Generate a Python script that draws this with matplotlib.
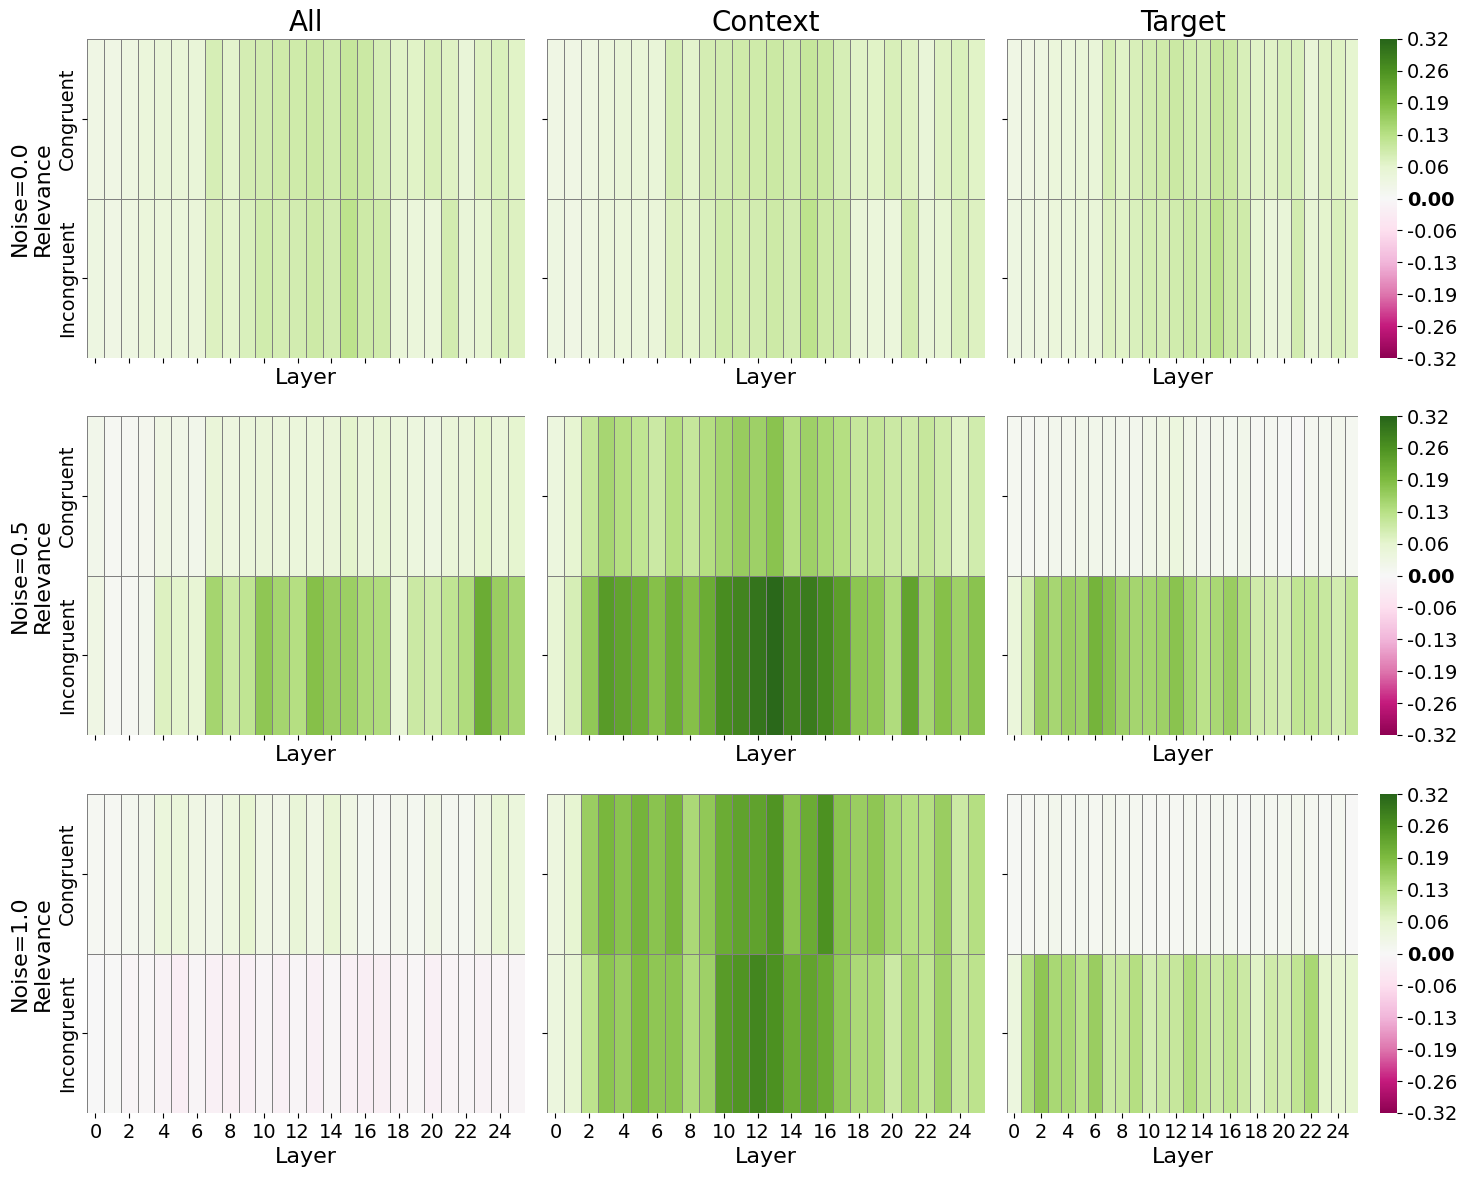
import matplotlib
matplotlib.use("Agg")
import matplotlib.pyplot as plt
import numpy as np
import seaborn as sns

layers = list(range(26))
relevance = ["Congruent", "Incongruent"]
noise_levels = ["0.0", "0.5", "1.0"]
columns = ["All", "Context", "Target"]
vlim = 0.32

# values, one list per heatmap row (layers 0..25)
all_00_cong = [0.03, 0.03, 0.035, 0.045, 0.05, 0.05, 0.05, 0.085, 0.065, 0.088, 0.09, 0.097, 0.097,
               0.10, 0.093, 0.108, 0.10, 0.085, 0.072, 0.07, 0.083, 0.073, 0.05, 0.073, 0.08, 0.07]
all_00_inc = [0.035, 0.03, 0.035, 0.045, 0.045, 0.045, 0.048, 0.075, 0.065, 0.08, 0.093, 0.088, 0.09,
              0.098, 0.092, 0.12, 0.098, 0.096, 0.05, 0.045, 0.045, 0.09, 0.05, 0.058, 0.08, 0.075]
ctx_00_cong = [0.03, 0.03, 0.035, 0.045, 0.05, 0.05, 0.05, 0.085, 0.065, 0.088, 0.09, 0.097, 0.097,
               0.10, 0.093, 0.108, 0.10, 0.085, 0.072, 0.07, 0.083, 0.073, 0.05, 0.073, 0.08, 0.07]
ctx_00_inc = [0.035, 0.03, 0.035, 0.045, 0.045, 0.045, 0.048, 0.075, 0.065, 0.08, 0.093, 0.088, 0.09,
              0.098, 0.092, 0.12, 0.098, 0.096, 0.05, 0.045, 0.045, 0.09, 0.05, 0.058, 0.08, 0.075]
tgt_00_cong = [0.03, 0.03, 0.035, 0.045, 0.045, 0.05, 0.05, 0.086, 0.072, 0.083, 0.09, 0.097, 0.102,
               0.093, 0.088, 0.108, 0.10, 0.083, 0.072, 0.07, 0.082, 0.08, 0.052, 0.073, 0.073, 0.063]
tgt_00_inc = [0.035, 0.035, 0.035, 0.046, 0.046, 0.05, 0.05, 0.077, 0.07, 0.08, 0.089, 0.085, 0.093,
              0.102, 0.093, 0.122, 0.10, 0.097, 0.058, 0.046, 0.052, 0.092, 0.055, 0.065, 0.08, 0.072]

all_05_cong = [0.02, 0.008, 0.008, 0.015, 0.03, 0.025, 0.022, 0.048, 0.038, 0.045, 0.048, 0.045, 0.045,
               0.045, 0.048, 0.065, 0.048, 0.056, 0.045, 0.042, 0.035, 0.048, 0.048, 0.063, 0.048, 0.064]
all_05_inc = [0.032, 0.008, 0.008, 0.018, 0.077, 0.066, 0.057, 0.148, 0.102, 0.115, 0.174, 0.148, 0.132,
              0.183, 0.16, 0.158, 0.142, 0.137, 0.05, 0.102, 0.095, 0.115, 0.137, 0.215, 0.16, 0.146]
ctx_05_cong = [0.042, 0.062, 0.11, 0.146, 0.13, 0.115, 0.10, 0.132, 0.108, 0.132, 0.148, 0.163, 0.155,
               0.178, 0.132, 0.155, 0.145, 0.13, 0.108, 0.112, 0.102, 0.095, 0.108, 0.096, 0.07, 0.093]
ctx_05_inc = [0.055, 0.085, 0.172, 0.242, 0.228, 0.215, 0.183, 0.215, 0.183, 0.215, 0.263, 0.274, 0.295,
              0.314, 0.274, 0.285, 0.267, 0.236, 0.175, 0.17, 0.137, 0.228, 0.146, 0.183, 0.155, 0.178]
tgt_05_cong = [0.01, 0.008, 0.01, 0.018, 0.018, 0.02, 0.022, 0.022, 0.018, 0.018, 0.025, 0.032, 0.04,
               0.025, 0.018, 0.018, 0.014, 0.022, 0.008, 0.01, 0.006, 0.002, 0.01, 0.014, 0.018, 0.01]
tgt_05_inc = [0.046, 0.097, 0.16, 0.146, 0.16, 0.157, 0.203, 0.178, 0.157, 0.15, 0.148, 0.157, 0.178,
              0.148, 0.123, 0.145, 0.16, 0.137, 0.095, 0.095, 0.088, 0.115, 0.115, 0.107, 0.092, 0.11]

all_10_cong = [0.008, 0.008, 0.014, 0.02, 0.043, 0.046, 0.032, 0.025, 0.04, 0.06, 0.03, 0.025, 0.05,
               0.032, 0.056, 0.032, 0.014, 0.008, 0.018, 0.014, 0.025, 0.01, 0.014, 0.03, 0.057, 0.043]
all_10_inc = [-0.002, 0.0, -0.01, -0.006, -0.014, -0.025, -0.01, -0.02, -0.022, -0.018, -0.01, -0.02, -0.01,
              -0.018, -0.006, -0.02, -0.025, -0.022, -0.014, -0.006, -0.02, -0.01, -0.01, -0.014, -0.01, -0.01]
ctx_10_cong = [0.038, 0.06, 0.16, 0.198, 0.178, 0.203, 0.178, 0.20, 0.142, 0.17, 0.215, 0.23, 0.23,
               0.252, 0.178, 0.215, 0.256, 0.178, 0.16, 0.173, 0.145, 0.132, 0.132, 0.16, 0.102, 0.13]
ctx_10_inc = [0.04, 0.057, 0.122, 0.175, 0.16, 0.19, 0.173, 0.175, 0.137, 0.155, 0.242, 0.25, 0.27,
              0.257, 0.215, 0.228, 0.215, 0.17, 0.142, 0.142, 0.102, 0.142, 0.115, 0.155, 0.108, 0.122]
tgt_10_cong = [0.006, 0.008, 0.01, 0.018, 0.01, 0.014, 0.01, 0.018, 0.01, 0.01, 0.008, 0.008, 0.008,
               0.01, 0.008, 0.01, 0.01, 0.006, 0.01, 0.01, 0.014, 0.018, 0.01, 0.006, 0.01, 0.002]
tgt_10_inc = [0.042, 0.137, 0.173, 0.145, 0.145, 0.124, 0.16, 0.102, 0.108, 0.13, 0.088, 0.102, 0.108,
              0.137, 0.108, 0.102, 0.115, 0.102, 0.072, 0.095, 0.088, 0.115, 0.145, 0.065, 0.06, 0.063]

panels = {
    ("0.0", "All"): [all_00_cong, all_00_inc],
    ("0.0", "Context"): [ctx_00_cong, ctx_00_inc],
    ("0.0", "Target"): [tgt_00_cong, tgt_00_inc],
    ("0.5", "All"): [all_05_cong, all_05_inc],
    ("0.5", "Context"): [ctx_05_cong, ctx_05_inc],
    ("0.5", "Target"): [tgt_05_cong, tgt_05_inc],
    ("1.0", "All"): [all_10_cong, all_10_inc],
    ("1.0", "Context"): [ctx_10_cong, ctx_10_inc],
    ("1.0", "Target"): [tgt_10_cong, tgt_10_inc],
}

W, H = 1465, 1178
fig = plt.figure(figsize=(W / 100, H / 100), dpi=100)


def box(x, y, w, h):
    return [x / W, 1 - (y + h) / H, w / W, h / H]


lefts = [87, 547, 1007]
widths = [438, 438, 351]
tops = [39, 416, 794]
hh = 319

for i, noise in enumerate(noise_levels):
    cax = fig.add_axes(box(1380, tops[i], 17, hh))
    for j, col in enumerate(columns):
        ax = fig.add_axes(box(lefts[j], tops[i], widths[j], hh))
        data = np.array(panels[(noise, col)])
        sns.heatmap(data, ax=ax, cmap="PiYG", vmin=-vlim, vmax=vlim,
                    linewidths=0.5, linecolor="gray",
                    cbar=(j == 2), cbar_ax=cax if j == 2 else None)
        ax.set_xticks(np.arange(0, len(layers), 2) + 0.5)
        ax.set_xticklabels([str(l) for l in layers[::2]], rotation=0, fontsize=14)
        if i < 2:
            ax.tick_params(axis="x", labelbottom=False)
        ax.set_yticks([0.5, 1.5])
        ax.set_yticklabels(relevance, rotation=90, va="center", fontsize=14)
        if j == 0:
            ax.set_ylabel(f"Noise={noise}\nRelevance", fontsize=16)
        else:
            ax.tick_params(axis="y", labelleft=False)
        ax.set_xlabel("Layer", fontsize=16)
        if i == 0:
            ax.set_title(col, fontsize=20)

    ticks = np.linspace(-vlim, vlim, 11)
    cax.set_yticks(ticks)
    labels = ["0.00" if abs(t) < 1e-9 else f"{t:.2f}" for t in ticks]
    cax.set_yticklabels(labels, fontsize=14)
    for t, lab in zip(ticks, cax.get_yticklabels()):
        if abs(t) < 1e-9:
            lab.set_fontweight("bold")

fig.savefig("out.png", dpi=100)
